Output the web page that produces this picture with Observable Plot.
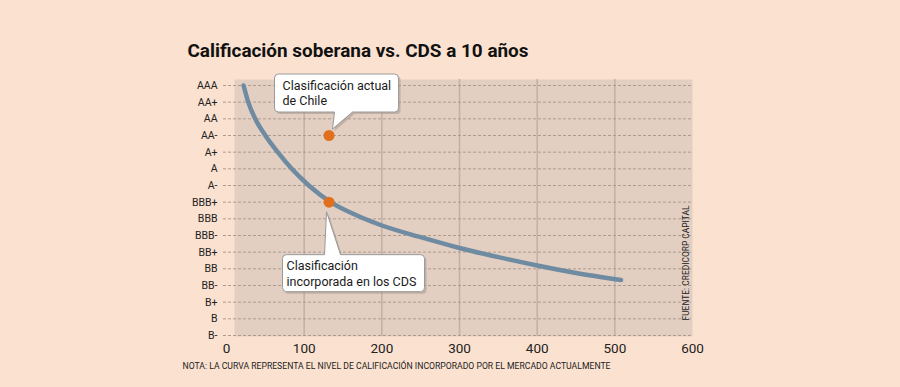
<!DOCTYPE html>
<html>
<head>
<meta charset="utf-8">
<script src="https://cdn.jsdelivr.net/npm/d3@7"></script>
<script src="https://cdn.jsdelivr.net/npm/@observablehq/plot@0.6"></script>
<style>
  html, body { margin: 0; padding: 0; background: #fbe1cf; }
  #chart { width: 900px; height: 387px; }
</style>
</head>
<body>
<div id="chart"></div>
<script>
// ---- data ----
const ratingLabels = ["B-", "B", "B+", "BB-", "BB", "BB+", "BBB-", "BBB", "BBB+", "A-", "A", "A+", "AA-", "AA", "AA+", "AAA"];
const xTicks = [0, 100, 200, 300, 400, 500, 600];
const curveCds = [22, 28, 37, 50, 66, 84, 106, 134, 163, 200, 250, 300, 350, 400, 450, 508];
const curveRating = [15, 14, 13, 12, 11, 10, 9, 8, 7.3, 6.6, 5.9, 5.25, 4.7, 4.2, 3.75, 3.33];
const dotCds = [132, 132];
const dotRating = [12, 8];
const dotLabels = [["Clasificación actual", "de Chile"], ["Clasificación", "incorporada en los CDS"]];
const titleText = "Calificación soberana vs. CDS a 10 años";
const noteText = "NOTA: LA CURVA REPRESENTA EL NIVEL DE CALIFICACIÓN INCORPORADO POR EL MERCADO ACTUALMENTE";
const sourceText = "FUENTE: CREDICORP CAPITAL";

const curve = curveCds.map((c, i) => ({cds: c, rating: curveRating[i]}));
const dots = dotCds.map((c, i) => ({cds: c, rating: dotRating[i], label: dotLabels[i]}));

// callout layout (pixel offsets relative to the dot)
const layouts = [
  {bx: -54, by: -61, w: 124, h: 38, pad: 8, side: "bottom", t1: 6, t2: 24, ax: 4, ay: -6},
  {bx: -46, by: 53, w: 142, h: 37, pad: 4, side: "top", t1: -4, t2: 12, ax: -2, ay: 10}
];

function calloutPath(x0, y0, w, h, r, side, t1, t2, ax, ay) {
  const x1 = x0 + w, y1 = y0 + h;
  let p = `M${x0 + r},${y0}`;
  if (side === "top") p += `L${t1},${y0}L${ax},${ay}L${t2},${y0}`;
  p += `L${x1 - r},${y0}Q${x1},${y0} ${x1},${y0 + r}L${x1},${y1 - r}Q${x1},${y1} ${x1 - r},${y1}`;
  if (side === "bottom") p += `L${t2},${y1}L${ax},${ay}L${t1},${y1}`;
  p += `L${x0 + r},${y1}Q${x0},${y1} ${x0},${y1 - r}L${x0},${y0 + r}Q${x0},${y0} ${x0 + r},${y0}Z`;
  return p;
}

function renderCallouts(index, scales, values) {
  const g = d3.create("svg:g");
  for (const i of index) {
    const px = values.x[i], py = values.y[i];
    const L = layouts[i];
    const x0 = px + L.bx, y0 = py + L.by;
    const d = calloutPath(x0, y0, L.w, L.h, 4, L.side, px + L.t1, px + L.t2, px + L.ax, py + L.ay);
    g.append("path").attr("d", d).attr("fill", "#9c8a80").attr("opacity", 0.45)
      .attr("transform", "translate(2,2)");
    g.append("path").attr("d", d).attr("fill", "#ffffff").attr("stroke", "#9a9a9a").attr("stroke-width", 1);
    const t = g.append("text").attr("font-size", 12.5).attr("fill", "#1a1a1a")
      .attr("font-family", "Roboto").attr("text-anchor", "start");
    dots[i].label.forEach((line, k) => {
      t.append("tspan").attr("x", x0 + L.pad).attr("y", y0 + 15.5 + k * 15.5).text(line);
    });
  }
  return g.node();
}

const chart = Plot.plot({
  width: 900,
  height: 387,
  marginLeft: 226,
  marginRight: 208,
  marginTop: 85,
  marginBottom: 52,
  style: {background: "#fbe1cf", fontFamily: "Roboto", color: "#222"},
  x: {domain: [0, 600]},
  y: {domain: [0, 15]},
  marks: [
    Plot.frame({fill: "#e2cfc2", stroke: null, insetLeft: 8, insetTop: -6, insetBottom: -1}),
    Plot.ruleX(xTicks.slice(1, -1), {stroke: "#c0b0a5", strokeWidth: 1.5, insetTop: -6, insetBottom: -1}),
    Plot.ruleY(d3.range(ratingLabels.length), {stroke: "#ad9b90", strokeWidth: 1, strokeDasharray: "3,2", insetLeft: -3}),
    Plot.axisY({ticks: d3.range(ratingLabels.length), tickFormat: i => ratingLabels[i], tickSize: 0, tickPadding: 9, fontSize: 10.5, label: null}),
    Plot.axisX({ticks: xTicks, tickSize: 0, tickPadding: 8, fontSize: 13.5, label: null}),
    Plot.line(curve, {x: "cds", y: "rating", curve: "monotone-x", stroke: "#6e8ba1", strokeWidth: 4.5, strokeLinecap: "round"}),
    Plot.dot(dots, {x: "cds", y: "rating", r: 0, render: renderCallouts}),
    Plot.dot(dots, {x: "cds", y: "rating", r: 5.5, fill: "#e0701e", stroke: null}),
    Plot.text([titleText], {text: d => d, frameAnchor: "top-left", dx: -39, dy: -29, textAnchor: "start", lineAnchor: "bottom", fontSize: 18.5, fontWeight: "bold", fill: "#111", className: "ttl"}),
    Plot.text([noteText], {text: d => d, frameAnchor: "bottom-left", dx: -44, dy: 33, textAnchor: "start", lineAnchor: "bottom", fontSize: 8.5, fill: "#222", className: "note"}),
    Plot.text([sourceText], {text: d => d, frameAnchor: "bottom-right", dx: -6, dy: -15, textAnchor: "start", lineAnchor: "middle", rotate: -90, fontSize: 9, fill: "#222", className: "src"})
  ]
});
document.getElementById("chart").appendChild(chart);
const sel = d3.select(chart);
sel.select(".note text").attr("textLength", 428).attr("lengthAdjust", "spacingAndGlyphs");
sel.select(".src text").attr("textLength", 115).attr("lengthAdjust", "spacingAndGlyphs");
sel.select(".ttl text").attr("textLength", 341).attr("lengthAdjust", "spacingAndGlyphs");
</script>
</body>
</html>
